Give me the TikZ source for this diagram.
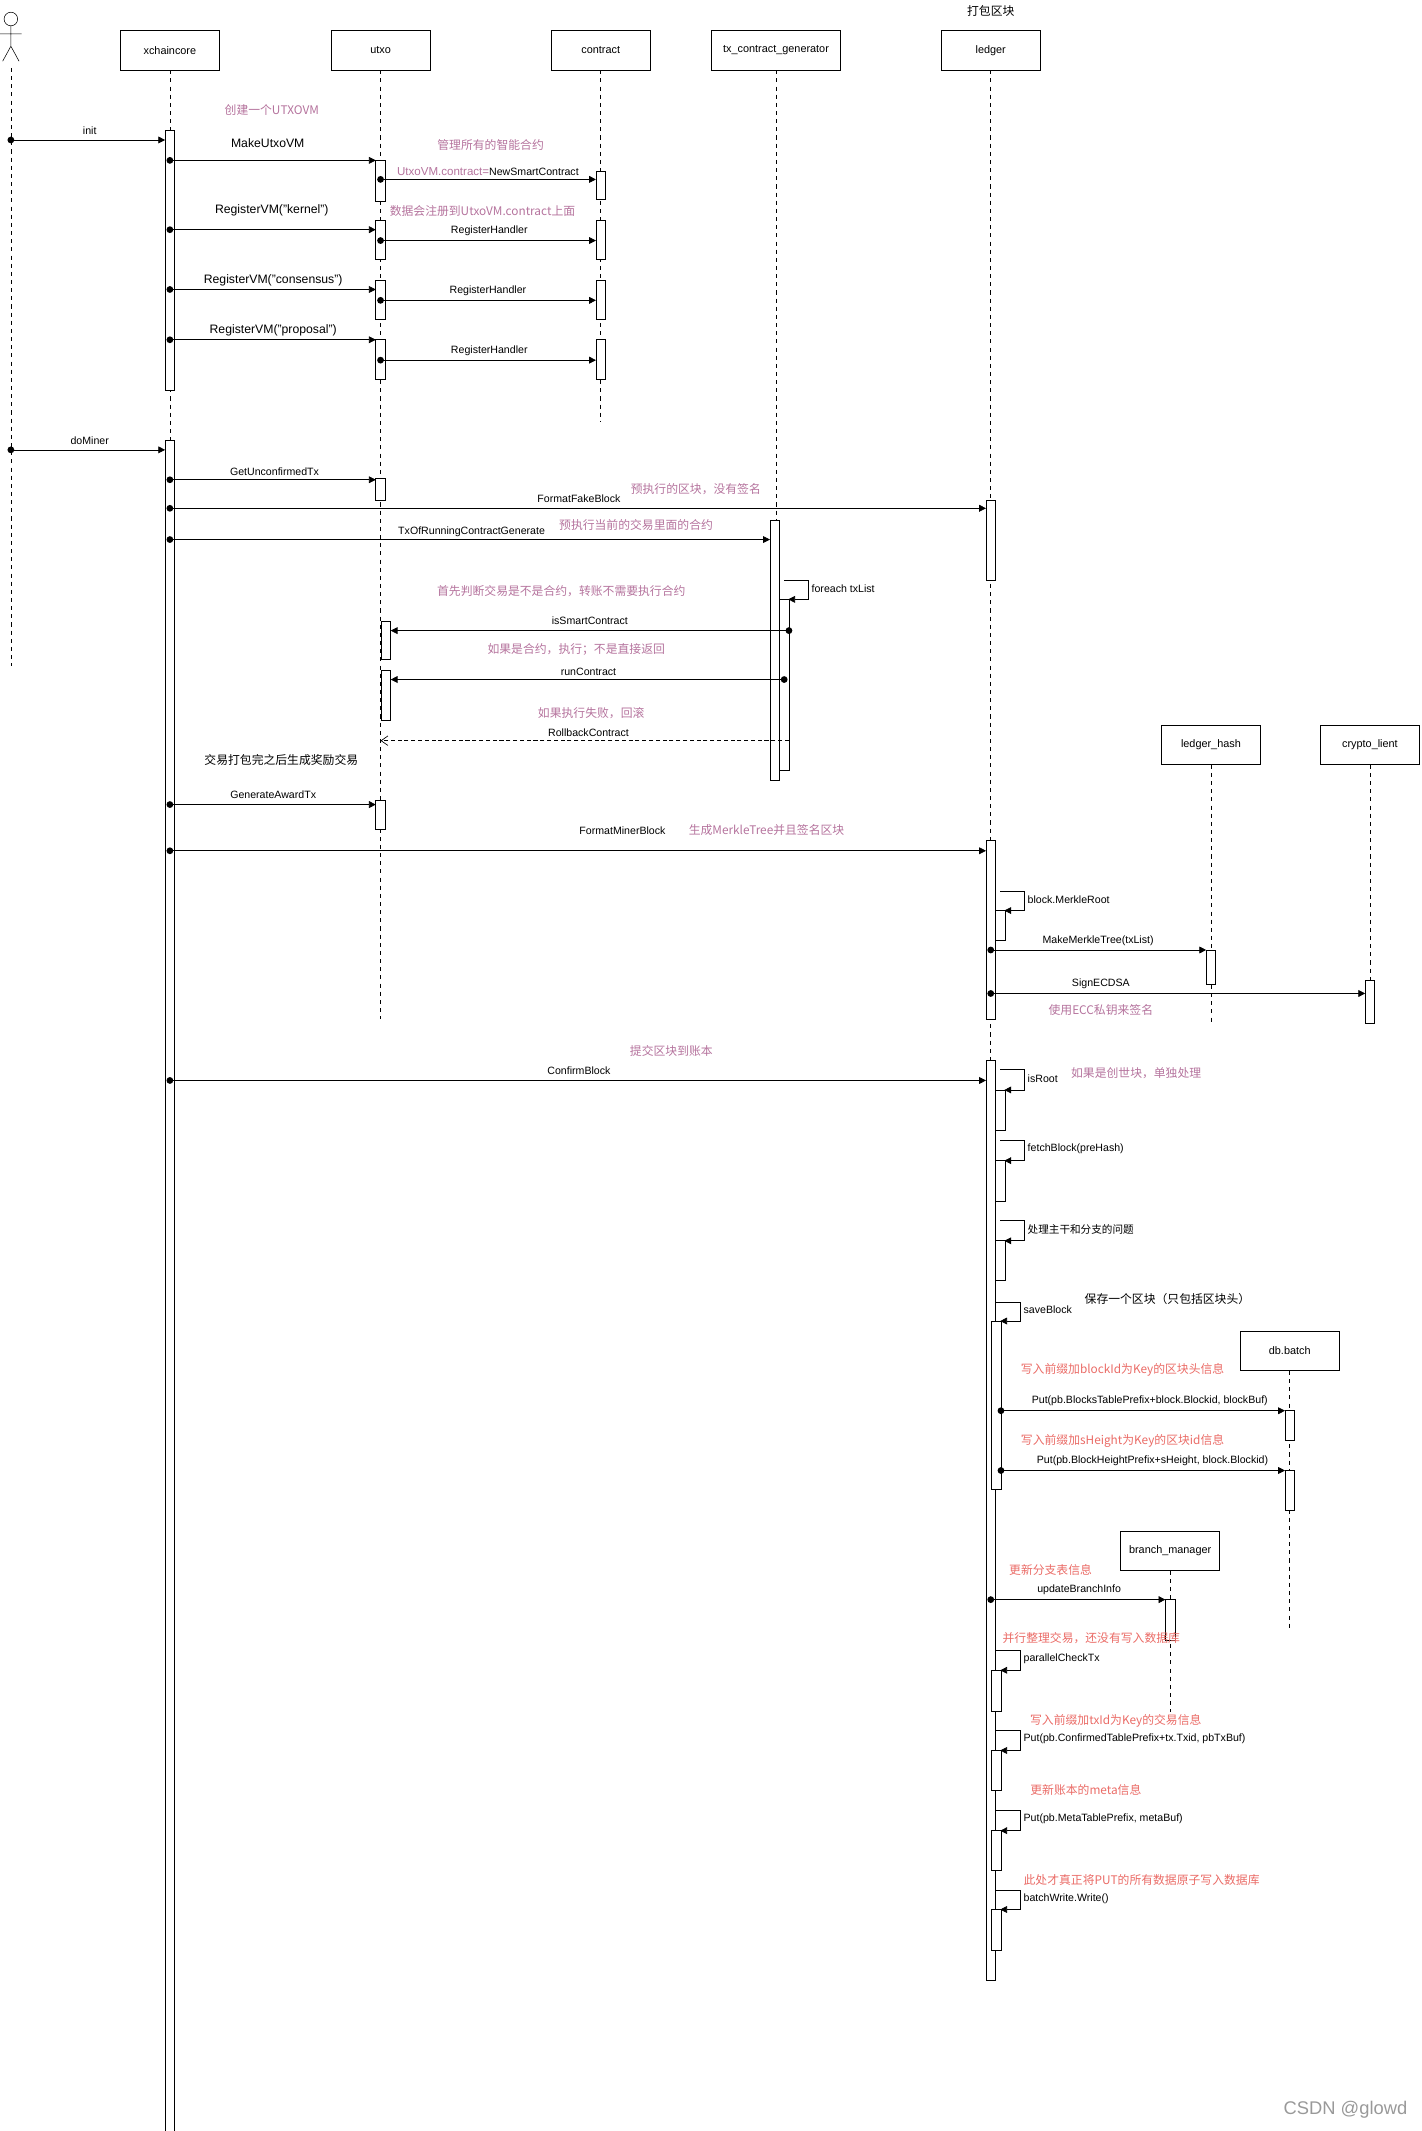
\documentclass[tikz,border=0pt]{standalone}
\usepackage{fontspec}
\setmainfont{Liberation Sans}
\newfontfamily\cjk{Noto Sans CJK SC}
\usetikzlibrary{arrows.meta}
\definecolor{pk}{HTML}{B5739D}
\definecolor{rd}{HTML}{EA6B66}
\tikzset{
 box/.style={draw,fill=white,minimum width=73pt,minimum height=29pt,inner sep=0pt,font=\fontsize{8}{9}\selectfont},
 life/.style={dash pattern=on 3pt off 3pt,line width=0.5pt},
 lbl/.style={font=\fontsize{7.8}{8}\selectfont,inner sep=0pt},
 pnote/.style={font=\cjk\fontsize{8.7}{9}\selectfont,text=pk,inner sep=0pt},
 rnote/.style={font=\cjk\fontsize{8.7}{9}\selectfont,text=rd,inner sep=0pt},
 bnote/.style={font=\cjk\fontsize{8.7}{9}\selectfont,inner sep=0pt},
 tip/.style={-{Triangle[length=5pt,width=5pt]}},
 act/.style={draw,fill=white,line width=0.5pt},
}
\newcommand\act[3]{\draw[act] (#1-3.5,#2) rectangle (#1+3.5,#3);}
\newcommand\msg[6]{% x1 x2 y labelx labely text
 \coordinate (ms) at (#1,#3); \coordinate (me) at (#2,#3);
 \fill (ms) circle (2.5pt);
 \draw[tip,line width=0.5pt] (ms) -- (me);
 \node[lbl] at (#4,#5) {#6};}
\newcommand\loopm[4]{% x y1 y2 text
 \coordinate (la) at (#1,#2); \coordinate (lb) at (#1+18,#2); \coordinate (lc) at (#1+18,#3); \coordinate (ld) at (#1+3,#3);
 \draw[tip,line width=0.5pt] (la) -- (lb) -- (lc) -- (ld);
 \node[lbl,anchor=west] at (#1+20,{(#2+#3)/2-1}) {#4};}
\begin{document}
\begin{tikzpicture}[x=1pt,y=-1pt]
\useasboundingbox (0,0) rectangle (1046,1568);
% actor
\draw (8,14) circle (5pt);
\draw (8,19) -- (8,34) (0,25) -- (16,25) (8,34) -- (2,45) (8,34) -- (14,45);
\coordinate (a0) at (8,50); \coordinate (a1) at (8,490);
\draw[life] (a0) -- (a1);
% boxes
\node[box] (xc) at (125,37) {xchaincore};
\node[box] (ut) at (280,37) {utxo};
\node[box] (ct) at (442,37) {contract};
\node[box,minimum width=95pt] (tg) at (571,37) {tx\_contract\_generator};
\node[box] (lg) at (729,37) {ledger};
\node[bnote] at (729,8) {打包区块};
\node[box] (lh) at (891,548) {ledger\_hash};
\node[box] (cr) at (1008,548) {crypto\_lient};
\node[box] (db) at (949,994) {db.batch};
\node[box] (bm) at (861,1141) {branch\_manager};
% lifelines
\coordinate (xce) at (125,1568); \draw[life] (xc) -- (xce);
\coordinate (ute) at (280,750); \draw[life] (ut) -- (ute);
\coordinate (cte) at (442,310); \draw[life] (ct) -- (cte);
\coordinate (tge) at (571,574); \draw[life] (tg) -- (tge);
\coordinate (lge) at (729,1457); \draw[life] (lg) -- (lge);
\coordinate (lhe) at (891,752); \draw[life] (lh) -- (lhe);
\coordinate (cre) at (1008,752); \draw[life] (cr) -- (cre);
\coordinate (dbe) at (949,1200); \draw[life] (db) -- (dbe);
\coordinate (bme) at (861,1260); \draw[life] (bm) -- (bme);
% activations
\act{125}{96}{287} \act{125}{324}{1568}
\act{280}{118}{148} \act{280}{162}{191} \act{280}{206}{235} \act{280}{250}{279}
\act{280}{352}{368} \act{284}{457}{485} \act{284}{493}{530} \act{280}{589}{610}
\act{442}{126}{147} \act{442}{162}{191} \act{442}{206}{235} \act{442}{250}{279}
\act{570}{383}{574} \act{577}{441}{567}
\act{729}{368}{427} \act{729}{618}{750} \act{736}{670}{692}
\act{729}{780}{1457} \act{736}{802}{832} \act{736}{854}{884} \act{736}{913}{942} \act{733}{972}{1096}
\act{733}{1229}{1259} \act{733}{1288}{1317} \act{733}{1347}{1376} \act{733}{1405}{1435}
\act{891}{699}{724} \act{1008}{721}{753}
\act{949}{1038}{1060} \act{949}{1082}{1111}
\act{861}{1177}{1207}
% messages
\msg{8}{121.5}{103}{66}{96}{init}
\msg{125}{276.5}{118}{197}{105}{\fontsize{9}{9}\selectfont MakeUtxoVM}
\coordinate (m1s) at (280,132); \coordinate (m1e) at (438.5,132);
\fill (m1s) circle (2.5pt); \draw[tip,line width=0.5pt] (m1s) -- (m1e);
\node[lbl] at (359,126) {\textcolor{pk}{\fontsize{8.5}{9}\selectfont UtxoVM.contract=}NewSmartContract};
\msg{125}{276.5}{169}{200}{155}{\fontsize{9}{9}\selectfont RegisterVM("kernel")}
\msg{280}{438.5}{177}{360}{170}{RegisterHandler}
\msg{125}{276.5}{213}{201}{206}{\fontsize{9}{9}\selectfont RegisterVM("consensus")}
\msg{280}{438.5}{221}{359}{214}{RegisterHandler}
\msg{125}{276.5}{250}{201}{243}{\fontsize{9}{9}\selectfont RegisterVM("proposal")}
\msg{280}{438.5}{265}{360}{258}{RegisterHandler}
\msg{8}{121.5}{331}{66}{324}{doMiner}
\msg{125}{276.5}{353}{202}{347}{GetUnconfirmedTx}
\msg{125}{725.5}{374}{426}{367}{FormatFakeBlock}
\msg{125}{566.5}{397}{347}{391}{TxOfRunningContractGenerate}
\loopm{577}{427}{441}{foreach txList}
\msg{580.5}{287.5}{464}{434}{457}{isSmartContract}
\msg{577}{287.5}{500}{433}{494}{runContract}
\coordinate (rbs) at (580.5,545); \coordinate (rbe) at (280,545);
\draw[dash pattern=on 3pt off 2pt,line width=0.5pt,-{Straight Barb[length=5pt,width=7pt]}] (rbs) -- (rbe);
\node[lbl] at (433,539) {RollbackContract};
\msg{125}{276.5}{592}{201}{585}{GenerateAwardTx}
\msg{125}{725.5}{626}{458}{611}{FormatMinerBlock}
\loopm{736}{656}{670}{block.MerkleRoot}
\msg{729}{887.5}{699}{808}{692}{MakeMerkleTree(txList)}
\msg{729}{1004.5}{731}{810}{724}{SignECDSA}
\msg{125}{725.5}{795}{426}{788}{ConfirmBlock}
\loopm{736}{787}{802}{isRoot}
\loopm{736}{839}{854}{fetchBlock(preHash)}
\loopm{736}{898}{913}{{\cjk 处理主干和分支的问题}}
\loopm{733}{958}{972}{saveBlock}
\msg{736.5}{945.5}{1038}{846}{1031}{Put(pb.BlocksTablePrefix+block.Blockid, blockBuf)}
\msg{736.5}{945.5}{1082}{848}{1075}{Put(pb.BlockHeightPrefix+sHeight, block.Blockid)}
\msg{729}{857.5}{1177}{794}{1170}{updateBranchInfo}
\loopm{733}{1214}{1229}{parallelCheckTx}
\loopm{733}{1273}{1288}{Put(pb.ConfirmedTablePrefix+tx.Txid, pbTxBuf)}
\loopm{733}{1332}{1347}{Put(pb.MetaTablePrefix, metaBuf)}
\loopm{733}{1391}{1405}{batchWrite.Write()}
% notes
\node[pnote] at (200,81) {创建一个UTXOVM};
\node[pnote] at (361,107) {管理所有的智能合约};
\node[pnote] at (355,155) {数据会注册到UtxoVM.contract上面};
\node[pnote] at (512,360) {预执行的区块，没有签名};
\node[pnote] at (468,386) {预执行当前的交易里面的合约};
\node[pnote] at (413,435) {首先判断交易是不是合约，转账不需要执行合约};
\node[pnote] at (424,478) {如果是合约，执行；不是直接返回};
\node[pnote] at (435,525) {如果执行失败，回滚};
\node[bnote] at (207,559) {交易打包完之后生成奖励交易};
\node[pnote] at (564,611) {生成MerkleTree并且签名区块};
\node[pnote] at (810,743) {使用ECC私钥来签名};
\node[pnote] at (494,773) {提交区块到账本};
\node[pnote] at (836,790) {如果是创世块，单独处理};
\node[bnote] at (859,956) {保存一个区块（只包括区块头）};
\node[rnote] at (826,1008) {写入前缀加blockId为Key的区块头信息};
\node[rnote] at (826,1060) {写入前缀加sHeight为Key的区块id信息};
\node[rnote] at (773,1155) {更新分支表信息};
\node[rnote] at (803,1205) {并行整理交易，还没有写入数据库};
\node[rnote] at (821,1266) {写入前缀加txId为Key的交易信息};
\node[rnote] at (799,1317) {更新账本的meta信息};
\node[rnote] at (840,1383) {此处才真正将PUT的所有数据原子写入数据库};
\node[font=\fontsize{13.5}{14}\selectfont,text=black!40,inner sep=0pt] at (990,1552) {CSDN @glowd};
\end{tikzpicture}
\end{document}
